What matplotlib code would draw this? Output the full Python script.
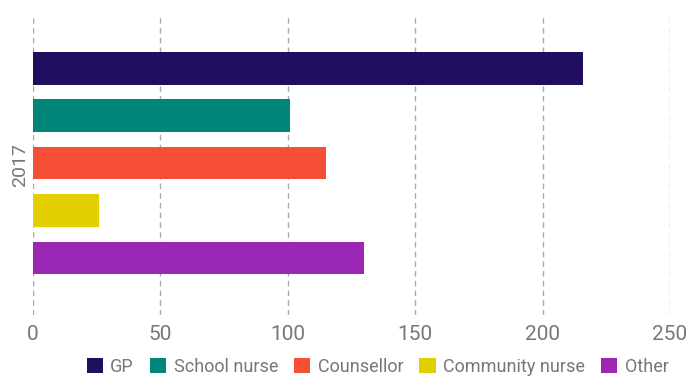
import matplotlib.pyplot as plt
from matplotlib.patches import Patch

plt.rcParams['font.family'] = ['Roboto', 'DejaVu Sans']

# data
year = "2017"
series = ["GP", "School nurse", "Counsellor", "Community nurse", "Other"]
values = [216, 101, 115, 26, 130]
colors = ["#220e5f", "#00877a", "#f55036", "#e3cf00", "#9b27b5"]
ticks = [0, 50, 100, 150, 200, 250]

fig = plt.figure(figsize=(6.89, 3.79), dpi=100)
ax = fig.add_axes([33 / 689, 1 - 315 / 379, 637 / 689, 300 / 379])

pos = list(range(len(series)))
ax.barh(pos, values, height=0.69, color=colors, zorder=3)

ax.set_xlim(0, 250)
ax.set_ylim(2.04 + 3.16, 2.04 - 3.16)
ax.set_xticks(ticks)
ax.set_xticklabels([str(t) for t in ticks])
ax.set_yticks([])
ax.set_ylabel(year, color="#777777", fontsize=14, labelpad=3)

for s in ax.spines.values():
    s.set_visible(False)
ax.grid(axis="x", color="#aaaaaa", linestyle=(0, (4, 3)), linewidth=1, zorder=0)
ax.tick_params(axis="x", length=0, pad=7, labelsize=15, labelcolor="#777777")

handles = [Patch(facecolor=c, label=s) for s, c in zip(series, colors)]
fig.legend(handles=handles, loc="lower center", bbox_to_anchor=(0.548, -0.035),
           ncol=5, frameon=False, fontsize=13, labelcolor="#777777",
           handlelength=0.9, handleheight=0.9, handletextpad=0.4, columnspacing=0.9)

fig.savefig("out.png", dpi=100)
